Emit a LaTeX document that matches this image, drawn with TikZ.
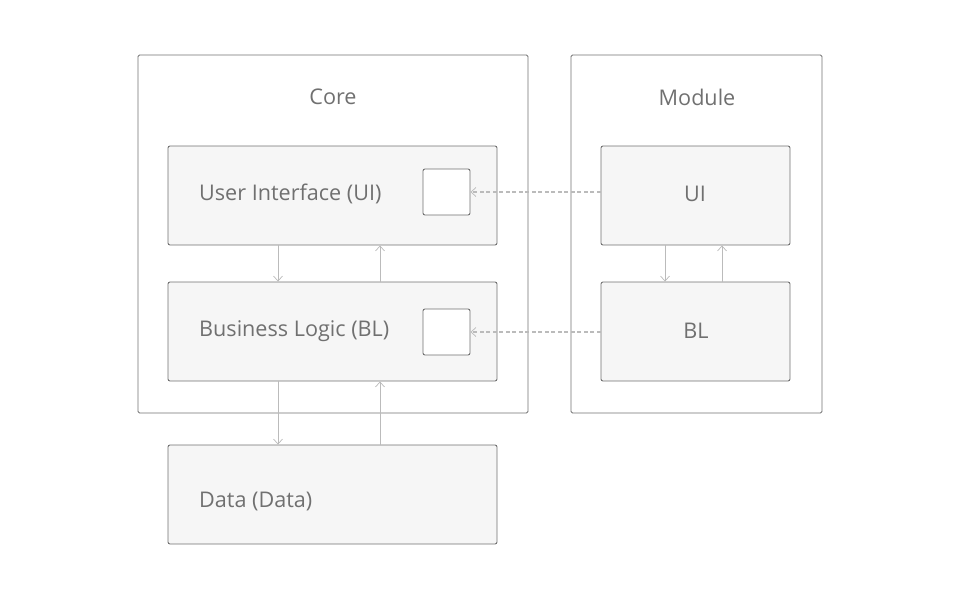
\documentclass[tikz,border=0pt]{standalone}
\usepackage{fontspec}
\setmainfont{Open Sans}
\usetikzlibrary{arrows.meta}
\definecolor{edge}{HTML}{707070}
\definecolor{boxfill}{HTML}{F6F6F6}
\definecolor{txt}{HTML}{707070}
\definecolor{arr}{HTML}{BBBBBB}
\tikzset{
  frame/.style={draw=edge, line width=0.9pt, rounded corners=1.5pt},
  layer/.style={draw=edge, fill=boxfill, line width=0.9pt, rounded corners=2pt, minimum width=329pt, minimum height=99pt, inner sep=0pt},
  mlayer/.style={draw=edge, fill=boxfill, line width=0.9pt, rounded corners=2pt, minimum width=189pt, minimum height=99pt, inner sep=0pt},
  port/.style={draw=edge, fill=white, line width=0.9pt, rounded corners=2pt, minimum width=47pt, minimum height=46pt, inner sep=0pt},
  lbl/.style={text=txt, font=\fontsize{21.6pt}{26pt}\selectfont, inner sep=0pt},
  flow/.style={draw=arr, line width=0.9pt, -{Straight Barb[length=5pt,width=9pt,line width=0.7pt]}},
  ref/.style={draw=arr, line width=1.1pt, dash pattern=on 4pt off 2.5pt, -{Straight Barb[length=5pt,width=9pt,line width=0.7pt]}}
}
\begin{document}
\begin{tikzpicture}[x=1pt,y=-1pt]
\useasboundingbox (0,0) rectangle (960,600);
% frames
\draw[frame] (138,55) rectangle (528,413);
\draw[frame] (571,55) rectangle (822,413);
\node[lbl] (core) at (333,97) {Core};
\node[lbl] (module) at (697,97) {Module};
% core layers
\node[layer] (ui) at (332.5,195.5) {};
\node[layer] (bl) at (332.5,331.5) {};
\node[layer] (data) at (332.5,494.5) {};
\node[lbl, anchor=west] (uit) at (199,194) {User Interface (UI)};
\node[lbl, anchor=west] (blt) at (199,331) {Business Logic (BL)};
\node[lbl, anchor=west] (datat) at (199,501) {Data (Data)};
\node[port] (uip) at (446.5,192) {};
\node[port] (blp) at (446.5,332) {};
% module layers
\node[mlayer] (mui) at (695.5,195.5) {};
\node[mlayer] (mbl) at (695.5,331.5) {};
\node[lbl] (muit) at (695,194) {UI};
\node[lbl] (mblt) at (696,331) {BL};
% flows
\draw[flow] (ui.south -| 278,0) -- (bl.north -| 278,0);
\draw[flow] (bl.north -| 380,0) -- (ui.south -| 380,0);
\draw[flow] (bl.south -| 278,0) -- (data.north -| 278,0);
\draw[flow] (data.north -| 380,0) -- (bl.south -| 380,0);
\draw[flow] (mui.south -| 665,0) -- (mbl.north -| 665,0);
\draw[flow] (mbl.north -| 722,0) -- (mui.south -| 722,0);
\draw[ref] (mui.west |- uip.east) -- (uip.east);
\draw[ref] (mbl.west |- blp.east) -- (blp.east);
\end{tikzpicture}
\end{document}
